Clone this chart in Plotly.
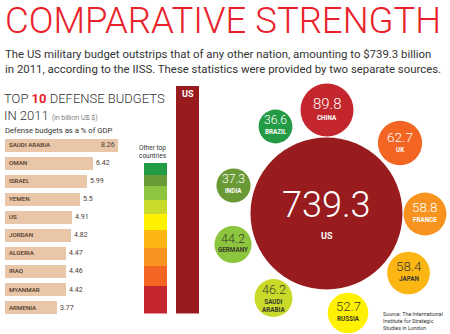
import math
import plotly.graph_objects as go

W, H = 450, 334

# ---------------- data ----------------
gdp_countries = ["SAUDI ARABIA", "OMAN", "ISRAEL", "YEMEN", "US", "JORDAN",
                 "ALGERIA", "IRAQ", "MYANMAR", "ARMENIA"]
gdp_pct = [8.26, 6.42, 5.99, 5.5, 4.91, 4.82, 4.47, 4.46, 4.42, 3.77]

budget_countries = ["US", "CHINA", "UK", "FRANCE", "JAPAN", "RUSSIA",
                    "SAUDI ARABIA", "GERMANY", "INDIA", "BRAZIL"]
budget_labels = ["US", "CHINA", "UK", "FRANCE", "JAPAN", "RUSSIA",
                 "SAUDI<br>ARABIA", "GERMANY", "INDIA", "BRAZIL"]
budget_bn = [739.3, 89.8, 62.7, 58.8, 58.4, 52.7, 46.2, 44.2, 37.3, 36.6]

# ---------------- styles / layout ----------------
bubble_colors = ["#981b1e", "#c4262e", "#f26522", "#f7931e", "#fcb614",
                 "#fff100", "#c9da2b", "#8cc63e", "#6a9a35", "#239b45"]
bubble_text_colors = ["#ffffff", "#ffffff", "#ffffff", "#ffffff", "#3a3a2a",
                      "#3a3a2a", "#3a3a2a", "#3a3a2a", "#ffffff", "#ffffff"]
# bubble packing positions (pixels in the 450x334 canvas)
bubble_cx = [326.5, 327, 400, 425, 408.5, 348, 273.5, 233, 233.5, 275.5]
bubble_cy = [213.5, 110, 143, 214, 273, 313, 298, 244.5, 185.5, 126.5]
US_DIAMETER = 152

FONT = "Roboto"
BAR_BEIGE = "#e9c6a8"

def X(px):
    return px / W

def Y(py):
    return 1 - py / H

fig = go.Figure()

# ---- left: defense budget as % of GDP ----
fig.add_trace(go.Bar(
    x=gdp_pct, y=gdp_countries, orientation="h",
    marker=dict(color=BAR_BEIGE, line=dict(width=0)),
    xaxis="x", yaxis="y", hoverinfo="skip", showlegend=False,
))

# ---- middle: stacked other countries + US ----
for name, val, col in list(zip(budget_countries, budget_bn, bubble_colors))[1:]:
    fig.add_trace(go.Bar(
        x=["Other"], y=[val], marker=dict(color=col, line=dict(width=0)),
        xaxis="x2", yaxis="y2", hoverinfo="skip", showlegend=False,
    ))
fig.add_trace(go.Bar(
    x=["US"], y=[budget_bn[0]], marker=dict(color=bubble_colors[0], line=dict(width=0)),
    xaxis="x2", yaxis="y2", hoverinfo="skip", showlegend=False,
))

# ---- right: bubbles ----
vmax = max(budget_bn)
fig.add_trace(go.Scatter(
    x=bubble_cx, y=bubble_cy, mode="markers",
    marker=dict(size=budget_bn, sizemode="area",
                sizeref=2 * vmax / US_DIAMETER ** 2,
                color=bubble_colors, line=dict(width=0), opacity=1),
    xaxis="x3", yaxis="y3", hoverinfo="skip", showlegend=False, cliponaxis=False,
))

ann = []
# bubble texts
for v, lab, cx, cy, tc in zip(budget_bn, budget_labels, bubble_cx, bubble_cy, bubble_text_colors):
    r = US_DIAMETER / 2 * math.sqrt(v / vmax)
    big = r > 50
    two = "<br>" in lab
    fs = 36 if big else 7 + 0.3 * r
    vshift = 8.6 if big else (8.5 if two else 6.5)
    nshift = -22.5 if big else (-8 if two else -(0.3 * r))
    ann.append(dict(x=cx, y=cy, xref="x3", yref="y3", text=f"{v:.1f}",
                    showarrow=False, yshift=vshift,
                    font=dict(family=FONT, size=fs, color=tc, weight=300)))
    nfs = 9 if big else 6.3
    ann.append(dict(x=cx, y=cy, xref="x3", yref="y3", text=f"<b>{lab}</b>",
                    showarrow=False, yshift=nshift,
                    font=dict(family=FONT, size=nfs, color=tc)))

# left bar labels
for c, p in zip(gdp_countries, gdp_pct):
    ann.append(dict(x=0, y=c, xref="x", yref="y", text=c, xanchor="left",
                    xshift=2, showarrow=False,
                    font=dict(family=FONT, size=6.2, color="#4a3426", weight=500)))
    inside = p > 8
    ann.append(dict(x=p, y=c, xref="x", yref="y", text=f"{p:g}",
                    xanchor="right" if inside else "left",
                    xshift=-1 if inside else 1, showarrow=False,
                    font=dict(family=FONT, size=7, color="#4a3a30")))

# title & texts
ann.append(dict(x=X(3), y=Y(20), xref="paper", yref="paper", xanchor="left", yanchor="middle",
                text="COMPARATIVE STRENGTH", showarrow=False,
                font=dict(family=FONT, size=36.5, color="#e8212b", weight=300)))
ann.append(dict(x=X(3), y=Y(61), xref="paper", yref="paper", xanchor="left", yanchor="middle",
                align="left", showarrow=False,
                text="The US military budget outstrips that of any other nation, amounting to $739.3 billion<br>"
                     "in 2011, according to the IISS. These statistics were provided by two separate sources.",
                font=dict(family=FONT, size=11.4, color="#333333")))
ann.append(dict(x=X(3), y=Y(107), xref="paper", yref="paper", xanchor="left", yanchor="bottom",
                align="left", showarrow=False, borderpad=0,
                text="TOP <b><span style='color:#e8212b'>10</span></b> DEFENSE BUDGETS",
                font=dict(family=FONT, size=13, color="#333333", weight=300)))
ann.append(dict(x=X(3), y=Y(107), xref="paper", yref="paper", xanchor="left", yanchor="top",
                align="left", showarrow=False, borderpad=0,
                text="IN 2011 <span style='font-size:7px'>(in billion US $)</span>",
                font=dict(family=FONT, size=13, color="#333333", weight=300)))
ann.append(dict(x=X(3), y=Y(130), xref="paper", yref="paper", xanchor="left", yanchor="middle",
                showarrow=False, text="Defense budgets as a % of GDP",
                font=dict(family=FONT, size=7.7, color="#333333")))
ann.append(dict(x=X(137), y=Y(152), xref="paper", yref="paper", xanchor="left", yanchor="middle",
                align="left", showarrow=False, text="Other top<br>countries",
                font=dict(family=FONT, size=6.5, color="#333333")))
ann.append(dict(x="US", y=budget_bn[0], xref="x2", yref="y2", yanchor="top", yshift=-1,
                showarrow=False, text="<b>US</b>",
                font=dict(family=FONT, size=9, color="#ffffff")))
ann.append(dict(x=X(381), y=Y(321), xref="paper", yref="paper", xanchor="left", yanchor="middle",
                align="left", showarrow=False,
                text="Source: The International<br>Institute for Strategic<br>Studies in London",
                font=dict(family=FONT, size=5.4, color="#333333")))

hid = dict(visible=False, showgrid=False, zeroline=False, fixedrange=True)
fig.update_layout(
    width=W, height=H, autosize=False,
    margin=dict(l=0, r=0, t=0, b=0, pad=0),
    paper_bgcolor="white", plot_bgcolor="rgba(0,0,0,0)",
    barmode="stack", bargap=0.28, showlegend=False,
    xaxis=dict(domain=[X(5), X(125)], range=[0, 120 / 13.7], **hid),
    yaxis=dict(domain=[Y(316.6), Y(136)], autorange="reversed",
               categoryorder="array", categoryarray=gdp_countries, **hid),
    xaxis2=dict(domain=[X(139.5), X(203.5)], anchor="y2",
                categoryorder="array", categoryarray=["Other", "US"], **hid),
    yaxis2=dict(domain=[Y(313.5), Y(85)], range=[0, 741], anchor="x2", **hid),
    xaxis3=dict(domain=[0, 1], range=[0, W], anchor="y3", **hid),
    yaxis3=dict(domain=[0, 1], range=[H, 0], anchor="x3", **hid),
    annotations=ann,
)
fig.write_html("out.html")
